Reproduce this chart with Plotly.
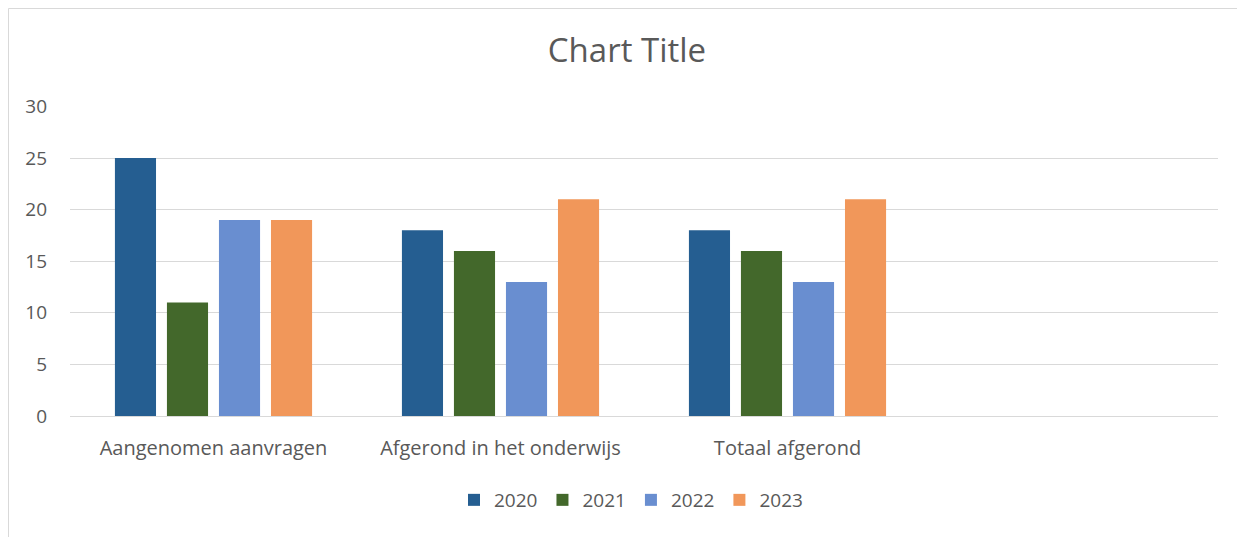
import plotly.graph_objects as go

categories = ["Aangenomen aanvragen", "Afgerond in het onderwijs", "Totaal afgerond", " "]
series_names = ["2020", "2021", "2022", "2023"]
v2020 = [25, 18, 18, None]
v2021 = [11, 16, 16, None]
v2022 = [19, 13, 13, None]
v2023 = [19, 21, 21, None]
colors = ["#255E91", "#43682B", "#698ED0", "#F1975A"]

FONT = "Open Sans"
TXT = "#595959"

OFF = 8  # default page body margin
W, H = 1245 - OFF, 537 - OFF
L, T = 70 - OFF, 106 - OFF
R, B = 27, 121
pw, ph = W - L - R, H - T - B

fig = go.Figure()
for name, vals, col in zip(series_names, [v2020, v2021, v2022, v2023], colors):
    fig.add_trace(go.Bar(x=categories, y=vals, name=name, marker=dict(color=col, line=dict(width=0))))

fig.update_layout(
    width=W, height=H,
    margin=dict(l=L, r=R, t=T, b=B, pad=0),
    paper_bgcolor="white", plot_bgcolor="white",
    barmode="group", bargap=0.275, bargroupgap=0.21,
    font=dict(family=FONT, color=TXT, size=20),
    title=dict(text="Chart Title", x=(627 - OFF) / W, xanchor="center", y=1 - (50 - OFF) / H, yanchor="middle",
               font=dict(size=33, color=TXT, family=FONT)),
    showlegend=True,
    legend=dict(orientation="h", x=(631 - 70) / pw, xanchor="center", y=(416 - 500) / ph, yanchor="middle",
                font=dict(size=19, color=TXT), itemwidth=30, traceorder="normal"),
    xaxis=dict(type="category", categoryorder="array", categoryarray=categories, range=[-0.5, 3.5],
               showgrid=False, showline=False, ticks="", ticklabelstandoff=18,
               tickfont=dict(size=20, color=TXT), fixedrange=True),
    yaxis=dict(range=[0, 30.05], tickvals=[0, 5, 10, 15, 20, 25, 30], showgrid=True, gridcolor="#D9D9D9", gridwidth=1,
               zeroline=True, zerolinecolor="#D9D9D9", zerolinewidth=1, showline=False, ticks="",
               ticklabelstandoff=22, tickfont=dict(size=19, color=TXT)),
    shapes=[dict(type="rect", xref="paper", yref="paper",
                 x0=(8.5 - 70) / pw, x1=(1300 - 70) / pw, y0=(416 - 600) / ph, y1=(416 - 8.5) / ph,
                 line=dict(color="#D9D9D9", width=1), fillcolor="rgba(0,0,0,0)", layer="below")],
)

fig.write_html("out.html")
